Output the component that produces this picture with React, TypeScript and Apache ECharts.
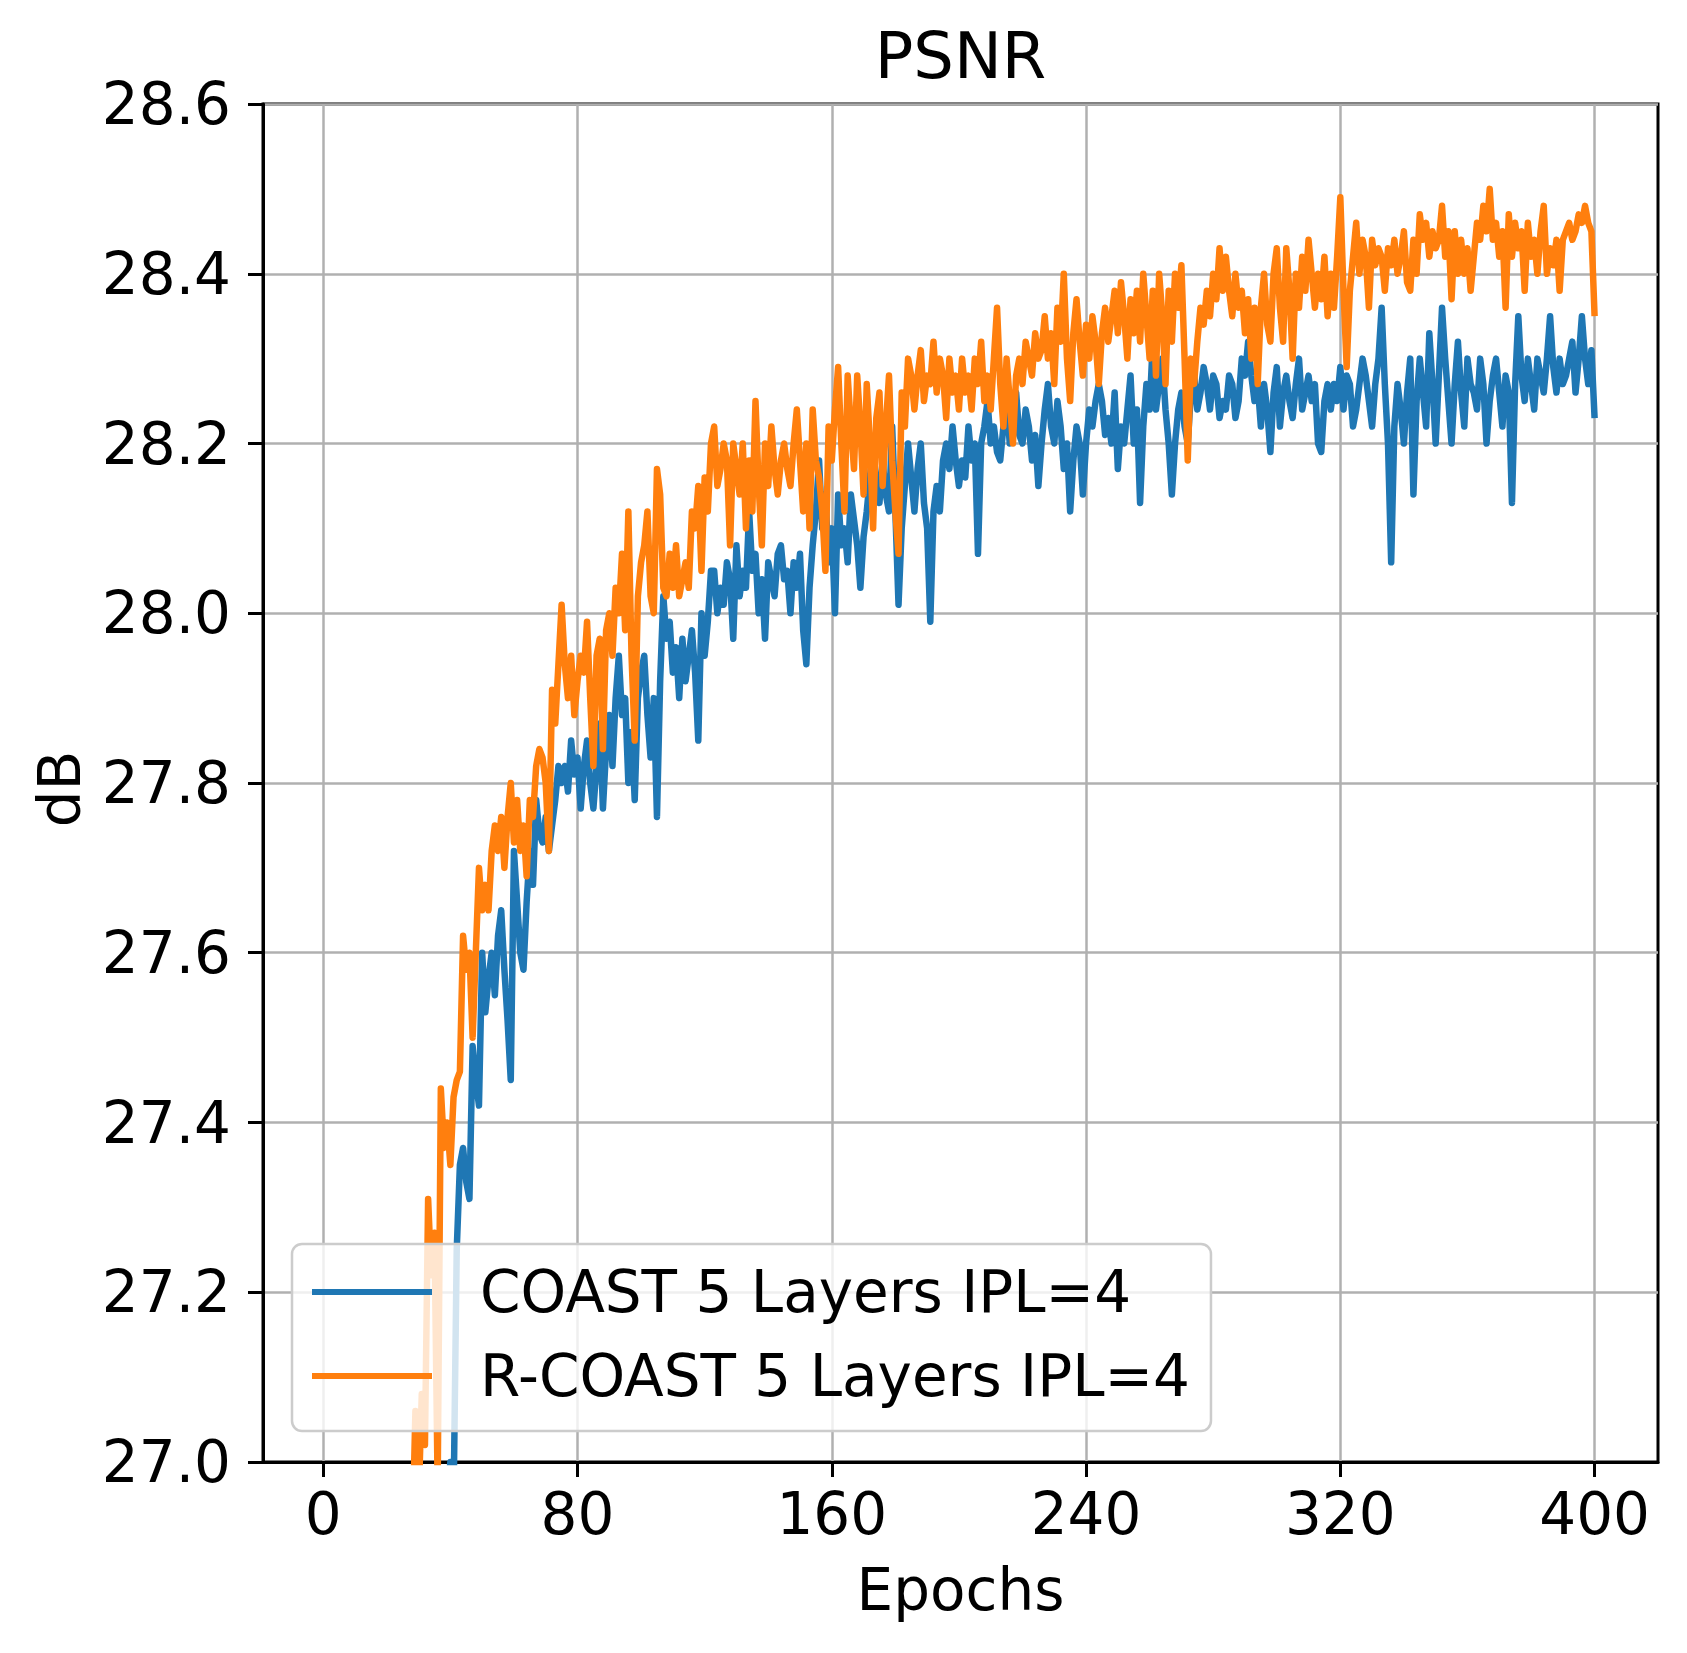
import React, { useEffect, useRef } from "react";
import * as echarts from "echarts";

const epochs: number[] = Array.from({ length: 400 }, (_, i) => i + 1);

// COAST 5 Layers IPL=4 (epochs 1..400)
const coast: number[] = [
  23.5, 24.2, 24.7, 25.0, 25.3, 25.5, 25.6, 25.8, 25.9, 26.0,
  26.05, 26.1, 26.2, 26.25, 26.3, 26.35, 26.4, 26.42, 26.48, 26.5,
  26.55, 26.58, 26.6, 26.63, 26.66, 26.7, 26.72, 26.74, 26.76, 26.78,
  26.8, 26.82, 26.84, 26.86, 26.88, 26.9, 26.92, 26.94, 26.96, 27.0,
  26.95, 27.25, 27.35, 27.37, 27.33, 27.31, 27.49, 27.45, 27.42, 27.6,
  27.53, 27.57, 27.6, 27.55, 27.62, 27.65, 27.58, 27.52, 27.45, 27.72,
  27.66, 27.6, 27.58, 27.66, 27.72, 27.68, 27.78, 27.74, 27.73, 27.76,
  27.72, 27.75, 27.78, 27.82, 27.8, 27.82, 27.79, 27.85, 27.81, 27.83,
  27.77, 27.82, 27.85, 27.8, 27.77, 27.82, 27.87, 27.77, 27.84, 27.88,
  27.82, 27.9, 27.95, 27.88, 27.9, 27.8, 27.86, 27.78, 27.9, 27.93,
  27.95, 27.88, 27.83, 27.9, 27.76, 27.92, 28.02, 27.97, 27.99, 27.93,
  27.96, 27.9, 27.97, 27.92, 27.95, 27.98, 27.93, 27.85, 28.0, 27.95,
  27.99, 28.05, 28.05, 28.0, 28.03, 28.01, 28.06, 28.04, 27.97, 28.08,
  28.02, 28.05, 28.03, 28.12, 28.05, 28.07, 28.0, 28.04, 27.97, 28.06,
  28.04, 28.02, 28.07, 28.08, 28.04, 28.05, 28.0, 28.06, 28.03, 28.07,
  27.98, 27.94, 28.03, 28.08, 28.12, 28.18, 28.1, 28.14, 28.06, 28.1,
  28.0, 28.14, 28.08, 28.1, 28.06, 28.14, 28.11, 28.08, 28.03, 28.09,
  28.12, 28.16, 28.2, 28.15, 28.13, 28.18, 28.14, 28.12, 28.22, 28.12,
  28.01, 28.1, 28.15, 28.2, 28.16, 28.12, 28.17, 28.2, 28.13, 28.1,
  27.99, 28.12, 28.15, 28.12, 28.18, 28.2, 28.17, 28.22, 28.18, 28.15,
  28.18, 28.16, 28.22, 28.18, 28.2, 28.07, 28.2, 28.22, 28.25, 28.2,
  28.22, 28.19, 28.18, 28.22, 28.25, 28.2, 28.23, 28.26, 28.21, 28.2,
  28.24, 28.22, 28.18, 28.21, 28.15, 28.2, 28.24, 28.27, 28.22, 28.2,
  28.25, 28.22, 28.17, 28.2, 28.12, 28.18, 28.22, 28.2, 28.14, 28.2,
  28.24, 28.22, 28.25, 28.27, 28.25, 28.21, 28.23, 28.2, 28.26, 28.17,
  28.22, 28.2, 28.24, 28.28, 28.2, 28.24, 28.13, 28.22, 28.27, 28.24,
  28.32, 28.24, 28.27, 28.3, 28.24, 28.2, 28.14, 28.2, 28.24, 28.26,
  28.22, 28.2, 28.26, 28.28, 28.24, 28.26, 28.29, 28.27, 28.24, 28.28,
  28.27, 28.23, 28.25, 28.24, 28.28, 28.27, 28.23, 28.25, 28.3, 28.28,
  28.32, 28.28, 28.25, 28.27, 28.22, 28.27, 28.24, 28.19, 28.26, 28.29,
  28.22, 28.26, 28.28, 28.25, 28.23, 28.27, 28.3, 28.24, 28.26, 28.28,
  28.25, 28.27, 28.2, 28.19, 28.25, 28.27, 28.24, 28.27, 28.25, 28.29,
  28.24, 28.28, 28.27, 28.22, 28.24, 28.27, 28.3, 28.28, 28.25, 28.22,
  28.27, 28.3, 28.36, 28.27, 28.2, 28.06, 28.22, 28.27, 28.24, 28.2,
  28.26, 28.3, 28.14, 28.25, 28.3, 28.26, 28.22, 28.33, 28.27, 28.2,
  28.28, 28.36, 28.3, 28.25, 28.2, 28.27, 28.32, 28.26, 28.22, 28.3,
  28.27, 28.26, 28.24, 28.3, 28.27, 28.2, 28.25, 28.28, 28.3, 28.26,
  28.22, 28.28, 28.26, 28.13, 28.27, 28.35, 28.28, 28.25, 28.3, 28.27,
  28.24, 28.3, 28.28, 28.26, 28.3, 28.35, 28.29, 28.26, 28.3, 28.27,
  28.28, 28.3, 28.32, 28.26, 28.3, 28.35, 28.3, 28.27, 28.31, 28.23,
];

// R-COAST 5 Layers IPL=4 (epochs 1..400)
const rcoast: number[] = [
  24.0, 24.6, 25.0, 25.3, 25.5, 25.7, 25.8, 25.9, 26.0, 26.1,
  26.15, 26.2, 26.28, 26.33, 26.38, 26.43, 26.48, 26.52, 26.56, 26.6,
  26.64, 26.68, 26.72, 26.76, 26.8, 26.85, 26.98, 26.9, 27.06, 26.95,
  27.08, 27.02, 27.31, 27.22, 27.27, 26.97, 27.44, 27.37, 27.4, 27.35,
  27.43, 27.45, 27.46, 27.62, 27.58, 27.6, 27.5, 27.6, 27.7, 27.65,
  27.68, 27.65, 27.72, 27.75, 27.72, 27.76, 27.7, 27.76, 27.8, 27.73,
  27.78, 27.72, 27.75, 27.69, 27.78, 27.76, 27.82, 27.84, 27.83, 27.8,
  27.72, 27.91, 27.87, 27.94, 28.01, 27.94, 27.9, 27.95, 27.88, 27.92,
  27.95, 27.93, 27.99, 27.9, 27.82, 27.95, 27.97, 27.84, 27.98, 28.0,
  27.95, 28.03, 28.0, 28.07, 27.98, 28.12, 27.95, 27.85, 28.02, 28.06,
  28.08, 28.12, 28.02, 28.0, 28.17, 28.14, 28.03, 28.02, 28.07, 28.03,
  28.08, 28.02, 28.04, 28.06, 28.03, 28.12, 28.1, 28.15, 28.05, 28.16,
  28.12, 28.2, 28.22, 28.15, 28.17, 28.2, 28.18, 28.08, 28.2, 28.17,
  28.14, 28.2, 28.1, 28.18, 28.12, 28.25, 28.15, 28.08, 28.2, 28.15,
  28.22, 28.17, 28.14, 28.18, 28.2, 28.17, 28.15, 28.2, 28.24, 28.18,
  28.12, 28.2, 28.1, 28.24, 28.18, 28.16, 28.12, 28.05, 28.22, 28.18,
  28.24, 28.29, 28.2, 28.12, 28.28, 28.22, 28.17, 28.28, 28.22, 28.14,
  28.27, 28.2, 28.1, 28.23, 28.26, 28.15, 28.22, 28.28, 28.18, 28.12,
  28.07, 28.26, 28.22, 28.3, 28.28, 28.24, 28.28, 28.31, 28.25, 28.28,
  28.27, 28.32, 28.26, 28.3, 28.28, 28.23, 28.3, 28.26, 28.28, 28.24,
  28.3, 28.26, 28.28, 28.24, 28.3, 28.27, 28.32, 28.25, 28.28, 28.24,
  28.3, 28.36, 28.27, 28.22, 28.3, 28.25, 28.2, 28.28, 28.3, 28.27,
  28.32, 28.3, 28.28, 28.33, 28.3, 28.31, 28.35, 28.3, 28.33, 28.27,
  28.36, 28.32, 28.4, 28.3, 28.25, 28.33, 28.37, 28.32, 28.28, 28.34,
  28.3, 28.35, 28.32, 28.27, 28.33, 28.36, 28.32, 28.35, 28.38, 28.33,
  28.39, 28.35, 28.3, 28.37, 28.33, 28.38, 28.32, 28.4, 28.35, 28.3,
  28.38, 28.28, 28.4, 28.35, 28.27, 28.38, 28.32, 28.4, 28.36, 28.41,
  28.3, 28.18, 28.3, 28.27, 28.32, 28.36, 28.34, 28.38, 28.35, 28.4,
  28.37, 28.43, 28.38, 28.42, 28.38, 28.35, 28.4, 28.36, 28.38, 28.33,
  28.37, 28.3, 28.36, 28.27, 28.36, 28.4, 28.34, 28.32, 28.4, 28.43,
  28.36, 28.32, 28.43, 28.38, 28.3, 28.4, 28.36, 28.42, 28.38, 28.44,
  28.4, 28.36, 28.4, 28.37, 28.42, 28.35, 28.4, 28.36, 28.42, 28.49,
  28.38, 28.29, 28.38, 28.42, 28.46, 28.4, 28.44, 28.42, 28.36, 28.44,
  28.41, 28.43, 28.42, 28.38, 28.43, 28.41, 28.44, 28.4, 28.42, 28.45,
  28.39, 28.38, 28.44, 28.4, 28.47, 28.44, 28.46, 28.42, 28.45, 28.43,
  28.44, 28.48, 28.42, 28.45, 28.37, 28.45, 28.4, 28.44, 28.4, 28.43,
  28.38, 28.42, 28.46, 28.44, 28.48, 28.45, 28.5, 28.44, 28.46, 28.42,
  28.45, 28.36, 28.47, 28.42, 28.46, 28.43, 28.45, 28.38, 28.46, 28.42,
  28.44, 28.4, 28.45, 28.48, 28.4, 28.43, 28.41, 28.44, 28.38, 28.44,
  28.45, 28.46, 28.44, 28.45, 28.47, 28.46, 28.48, 28.46, 28.45, 28.35,
];

const xTicks: number[] = [0, 80, 160, 240, 320, 400];
const seriesNames: string[] = ["COAST 5 Layers IPL=4", "R-COAST 5 Layers IPL=4"];
const seriesColors: string[] = ["#1f77b4", "#ff7f0e"];

const FONT = "DejaVu Sans";

export default function App() {
  const ref = useRef<HTMLDivElement>(null);

  useEffect(() => {
    if (!ref.current) return;
    const chart = echarts.init(ref.current, undefined, { renderer: "svg" });
    const gridLeft = 263;
    const gridTop = 104;
    const gridW = 1395;
    const gridH = 1358;
    const option: any = {
      animation: false,
      backgroundColor: "#ffffff",
      grid: {
        left: gridLeft,
        top: gridTop,
        width: gridW,
        height: gridH,
        show: true,
        borderColor: "#000000",
        borderWidth: 3,
        backgroundColor: "transparent",
        containLabel: false,
      },
      xAxis: {
        type: "value",
        min: -18.95,
        max: 419.95,
        axisLine: { show: true, onZero: false, lineStyle: { color: "#000", width: 3 } },
        axisTick: { show: true, length: 15, lineStyle: { color: "#000", width: 3 }, customValues: xTicks },
        axisLabel: {
          show: true,
          customValues: xTicks,
          fontSize: 58,
          fontFamily: FONT,
          color: "#000",
          margin: 23,
          formatter: (v: number) => String(v),
        },
        splitLine: { show: true, lineStyle: { color: "#b0b0b0", width: 2.5 } },
      },
      yAxis: {
        type: "value",
        min: 27.0,
        max: 28.6,
        interval: 0.2,
        axisLine: { show: true, onZero: false, lineStyle: { color: "#000", width: 3 } },
        axisTick: { show: true, length: 15, lineStyle: { color: "#000", width: 3 } },
        axisLabel: {
          fontSize: 58,
          fontFamily: FONT,
          color: "#000",
          margin: 32,
          formatter: (v: number) => v.toFixed(1),
        },
        splitLine: { show: true, lineStyle: { color: "#b0b0b0", width: 2.5 } },
      },
      legend: {
        show: true,
        orient: "vertical",
        left: 292,
        top: 1244,
        padding: [18, 21, 25, 20],
        itemGap: 24,
        itemWidth: 124,
        itemHeight: 6,
        selectedMode: false,
        backgroundColor: "rgba(255,255,255,0.8)",
        borderColor: "#cccccc",
        borderWidth: 2.5,
        borderRadius: 10,
        data: seriesNames.map((n, i) => ({
          name: n,
          icon: "path://M0,0 L120,0 L120,6 L0,6 Z",
          itemStyle: { color: seriesColors[i] },
        })),
        textStyle: {
          fontSize: 58,
          fontFamily: FONT,
          color: "#000",
          lineHeight: 60,
          padding: [0, 0, 0, 41],
        },
      },
      series: [coast, rcoast].map((vals, si) => ({
        name: seriesNames[si],
        type: "line",
        showSymbol: false,
        symbol: "none",
        clip: true,
        color: seriesColors[si],
        lineStyle: { color: seriesColors[si], width: 6.5, join: "round", cap: "butt" },
        data: epochs.map((e, i) => [e, vals[i]]),
        z: 2 + si,
      })),
      graphic: [
        {
          type: "text",
          x: gridLeft + gridW / 2,
          y: 56,
          style: {
            text: "PSNR",
            font: `64px "${FONT}"`,
            fill: "#000",
            textAlign: "center",
            textVerticalAlign: "middle",
          },
        },
        {
          type: "text",
          x: gridLeft + gridW / 2,
          y: 1590,
          style: {
            text: "Epochs",
            font: `58px "${FONT}"`,
            fill: "#000",
            textAlign: "center",
            textVerticalAlign: "middle",
          },
        },
        {
          type: "text",
          x: 60,
          y: 789,
          rotation: Math.PI / 2,
          style: {
            text: "dB",
            font: `58px "${FONT}"`,
            fill: "#000",
            textAlign: "center",
            textVerticalAlign: "middle",
          },
        },
      ],
    };
    chart.setOption(option);
    return () => chart.dispose();
  }, []);

  return (
    <div
      ref={ref}
      style={{ position: "absolute", left: 0, top: 0, width: 1687, height: 1653 }}
    />
  );
}
